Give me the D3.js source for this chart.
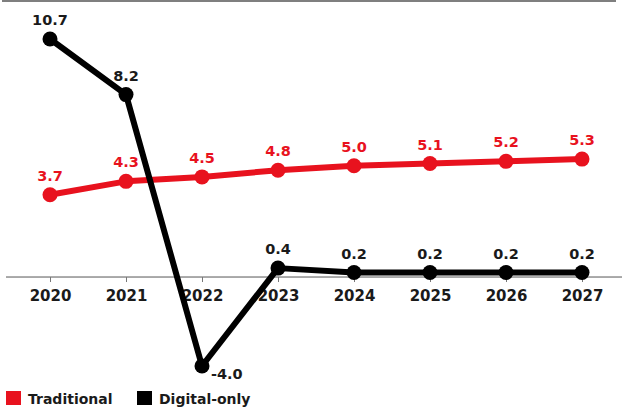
<!DOCTYPE html>
<html>
<head>
<meta charset="utf-8">
<script src="https://cdn.jsdelivr.net/npm/d3@7"></script>
<style>
  body { margin: 0; background: #fff; }
  svg { display: block; font-family: "DejaVu Sans", sans-serif; }
</style>
</head>
<body>
<div id="chart"></div>
<script>
var years = [2020, 2021, 2022, 2023, 2024, 2025, 2026, 2027];
var traditional = [3.7, 4.3, 4.5, 4.8, 5.0, 5.1, 5.2, 5.3];
var digitalOnly = [10.7, 8.2, -4.0, 0.4, 0.2, 0.2, 0.2, 0.2];
var seriesNames = ["Traditional", "Digital-only"];
var seriesColors = ["#e8121e", "#000000"];

var width = 622, height = 410;

var svg = d3.select("#chart").append("svg")
  .attr("width", width)
  .attr("height", height);

// top rule
svg.append("line")
  .attr("x1", 2).attr("x2", 616)
  .attr("y1", 1).attr("y2", 1)
  .attr("stroke", "#7f7f7f").attr("stroke-width", 2);

var x = d3.scalePoint().domain(years).range([50, 582]);
var y = d3.scaleLinear().domain([-4, 10.7]).range([366, 39]);

// baseline axis
var axis = svg.append("g")
  .attr("transform", "translate(0," + y(0) + ")");
axis.append("line")
  .attr("x1", 6).attr("x2", width)
  .attr("stroke", "#555").attr("stroke-width", 1);
axis.call(d3.axisBottom(x).tickSize(5).tickSizeOuter(0).tickPadding(8))
  .call(function (g) { g.select(".domain").remove(); })
  .call(function (g) {
    g.selectAll(".tick line").attr("stroke", "#777");
    g.selectAll(".tick text")
      .attr("fill", "#1a1a1a")
      .style("font-family", "DejaVu Sans, sans-serif")
      .style("font-size", "15px")
      .style("font-weight", "700");
  });

var line = d3.line()
  .x(function (d) { return x(d[0]); })
  .y(function (d) { return y(d[1]); });

var allSeries = [traditional, digitalOnly];
allSeries.forEach(function (vals, s) {
  var pts = years.map(function (yr, i) { return [yr, vals[i]]; });
  var g = svg.append("g");
  g.append("path")
    .attr("d", line(pts))
    .attr("fill", "none")
    .attr("stroke", seriesColors[s])
    .attr("stroke-width", 6)
    .attr("stroke-linejoin", "round");
  g.selectAll("circle").data(pts).enter().append("circle")
    .attr("cx", function (d) { return x(d[0]); })
    .attr("cy", function (d) { return y(d[1]); })
    .attr("r", 7.5)
    .attr("fill", seriesColors[s]);
  g.selectAll("text").data(pts).enter().append("text")
    .attr("x", function (d) { return d[1] < 0 ? x(d[0]) + 9 : x(d[0]); })
    .attr("y", function (d) { return d[1] < 0 ? y(d[1]) + 13 : y(d[1]) - 14; })
    .attr("text-anchor", function (d) { return d[1] < 0 ? "start" : "middle"; })
    .attr("fill", s == 0 ? seriesColors[s] : "#1a1a1a")
    .style("font-size", "14.5px")
    .style("font-weight", "700")
    .text(function (d) { return d[1].toFixed(1); });
});

// legend
var legendX = [6, 137];
seriesNames.forEach(function (name, i) {
  svg.append("rect")
    .attr("x", legendX[i]).attr("y", 391)
    .attr("width", 15).attr("height", 14)
    .attr("fill", seriesColors[i]);
  svg.append("text")
    .attr("x", legendX[i] + 22).attr("y", 404)
    .attr("fill", "#1a1a1a")
    .style("font-size", "14px")
    .style("font-weight", "700")
    .text(name);
});
</script>
</body>
</html>
